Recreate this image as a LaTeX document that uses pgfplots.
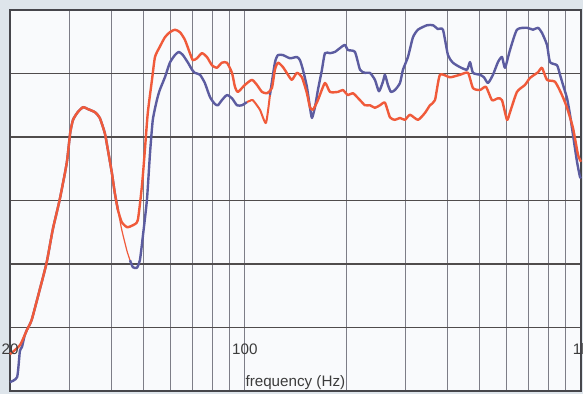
\documentclass[border=0pt]{standalone}
\usepackage{fontspec}
\setmainfont{Liberation Sans}
\usepackage{pgfplots}
\pgfplotsset{compat=1.18}
\definecolor{bgout}{RGB}{222,229,235}
\definecolor{bgin}{RGB}{249,250,252}
\definecolor{vgrid}{RGB}{125,125,135}
\definecolor{hgrid}{RGB}{80,76,76}
\definecolor{frame}{RGB}{70,70,75}
\definecolor{blueline}{RGB}{92,92,160}
\definecolor{redline}{RGB}{240,90,58}
\definecolor{txt}{RGB}{60,60,60}
\begin{document}
\begin{tikzpicture}
\path[use as bounding box, fill=bgout] (-5pt,-1.5pt) rectangle (286.5pt,195.5pt);
\begin{axis}[
  at={(0,0)}, anchor=south west,
  scale only axis, width=285.5pt, height=190.5pt,
  xmode=log, xmin=20, xmax=1000, ymin=0, ymax=60,
  xtick={20,30,40,50,60,70,80,90,100,200,300,400,500,600,700,800,900,1000},
  ytick={0,10,20,30,40,50,60},
  xticklabels={}, yticklabels={},
  tick style={draw=none},
  grid=major,
  x grid style={draw=vgrid, line width=0.5pt},
  y grid style={draw=hgrid, line width=0.8pt},
  axis line style={draw=frame, line width=0.8pt},
  axis background/.style={fill=bgin},
  clip=false,
  font=\fontsize{7.6}{9}\selectfont,
  every axis plot/.append style={smooth, tension=0.35, line join=round},
]
% blue series
\addplot[blueline, line width=1.2pt] coordinates {
(20.0,1.4) (21.0,2.2) (21.4,6.3) (21.7,6.9) (22.1,8.7) (22.45,9.6)
(23.2,11.2) (24.5,15.9) (25.7,20.2) (26.8,25.4) (28.1,30.1) (29.5,35.9)
(30.2,40.6) (30.8,42.7) (31.8,43.9) (33.0,44.7) (34.1,44.4) (35.8,43.9)
(37.0,43.0) (38.3,40.6) (39.1,38.0) (40.2,34.3) (41.0,31.2) (41.9,28.5)
};
\addplot[redline, line width=0.6pt] coordinates {
(41.9,28.5) (43.0,25.4) (44.6,22.0) (45.5,20.6)
};
\addplot[blueline, line width=1.2pt] coordinates {
(45.5,20.6) (46.4,19.5) (47.7,19.4) (48.7,20.6) (49.7,24.4) (51.1,30.1)
(52.2,37.5) (53.2,42.7) (54.7,45.8) (55.8,47.4) (57.8,49.4) (59.8,51.7)
(61.9,52.9) (63.6,53.4) (65.4,52.9) (67.7,51.7) (69.6,50.6) (71.0,50.1)
(73.5,49.8) (76.0,48.5) (78.7,46.3) (81.4,45.2) (83.1,45.0) (85.4,45.8)
(88.4,46.6) (91.5,46.1) (94.7,45.0) (98.0,45.0) (101.4,45.5)
};
\addplot[redline, line width=1.0pt] coordinates {
(101.4,45.5) (103.5,45.7) (105.6,45.8) (110.8,44.3) (115.5,42.2) (118.7,46.6)
};
\addplot[blueline, line width=1.2pt] coordinates {
(118.7,46.6) (122.8,51.7) (125.4,52.9) (129.8,52.9) (136.1,52.4) (142.8,52.6)
(145.8,52.1) (148.8,50.6) (152.9,47.9) (156.1,44.7) (158.3,43.0) (161.6,44.7)
(164.9,47.4) (169.5,50.6) (173.0,53.2) (179.1,53.2) (185.3,53.4) (191.8,54.0)
(198.4,54.5) (202.5,53.7) (212.5,53.4) (220.0,50.6) (227.6,50.1) (235.5,50.1)
(243.7,49.0) (250.5,47.2) (257.4,48.7) (261.0,49.8) (266.4,48.2) (271.9,47.1)
(279.5,47.4) (289.3,48.5) (295.3,50.6) (305.6,52.6) (316.2,55.7) (327.3,56.9)
(348.2,57.6) (362.7,57.6) (375.3,57.0) (388.4,56.9) (401.9,52.9) (415.9,51.7)
(436.5,51.0) (458.0,50.6) (467.4,51.8) (477.1,50.1) (500.5,49.8) (514.4,49.4)
(528.7,48.5) (547.1,49.8) (566.2,51.8) (582.0,52.6) (594.1,50.9) (614.8,53.7)
(644.9,56.9) (690.7,57.2) (719.7,56.9) (744.9,57.2) (765.5,56.4) (792.2,54.5)
(808.6,51.8) (848.5,51.3) (866.0,49.8) (884.1,48.2) (908.7,46.1) (927.6,43.5)
(946.8,40.3) (973.0,36.1) (993.2,33.7) (1000,33.5)
};
% red series
\addplot[redline, line width=1.2pt] coordinates {
(20.0,5.8) (21.4,7.2) (22.45,9.6) (23.2,11.2) (24.5,15.9) (25.7,20.2)
(26.8,25.4) (28.1,30.1) (29.5,35.9) (30.2,40.6) (30.8,42.7) (31.8,43.9)
(33.0,44.7) (34.1,44.4) (35.8,43.9) (37.0,43.0) (38.3,40.6) (39.1,38.0)
(40.2,34.3) (41.0,31.2) (41.9,28.5) (43.0,26.6) (44.6,25.8) (46.4,26.1)
(48.0,26.9) (49.4,32.4) (50.4,38.0) (51.4,43.8) (52.9,49.0) (54.0,52.6)
(55.8,54.2) (57.8,55.7) (59.8,56.5) (61.9,56.9) (64.1,56.5) (66.3,55.3)
(68.6,53.2) (70.0,52.1) (72.0,52.4) (74.5,53.2) (77.1,52.6) (79.8,51.3)
(82.5,50.9) (85.4,51.7) (88.4,51.7) (91.5,50.1) (93.4,47.9) (95.3,47.1)
(100,48.2) (104.9,49.0) (108.6,48.2) (112.4,47.1) (116.3,46.9) (120.3,47.7)
(122.8,50.6) (125.4,51.7) (129.8,51.0) (134.3,49.8) (138.0,49.0) (142.8,50.1)
(147.8,49.4) (152.9,46.9) (156.1,44.7) (159.4,44.3) (164.9,45.8) (173.0,48.5)
(179.1,47.1) (189.2,47.1) (195.7,47.4) (202.5,46.6) (209.6,46.9) (220.0,45.8)
(227.6,45.0) (235.5,45.0) (243.7,44.6) (252.2,45.0) (261.0,45.4) (270.1,43.1)
(279.5,42.7) (289.3,43.0) (299.4,42.7) (309.9,43.5) (327.3,42.7) (343.4,43.8)
(355.3,45.0) (367.7,45.8) (380.5,49.8) (407.5,49.4) (436.5,49.8) (461.1,50.1)
(477.1,47.7) (500.5,47.4) (521.5,47.9) (543.4,45.8) (566.2,46.1) (582.0,45.8)
(602.3,42.7) (614.8,43.9) (644.9,47.1) (681.3,48.2) (705.0,49.3) (744.9,50.2)
(765.5,50.9) (792.2,49.0) (837.0,48.7) (878.0,46.6) (908.7,44.6) (946.8,41.4)
(979.7,37.2) (1000,36.1)
};
\node[txt] at (axis cs:20,6.6) {20};
\node[txt] at (axis cs:100,6.6) {100};
\node[txt] at (axis cs:1000,6.6) {1k};
\node[txt] at (axis cs:141.3,1.4) {frequency (Hz)};
\end{axis}
\end{tikzpicture}
\end{document}
